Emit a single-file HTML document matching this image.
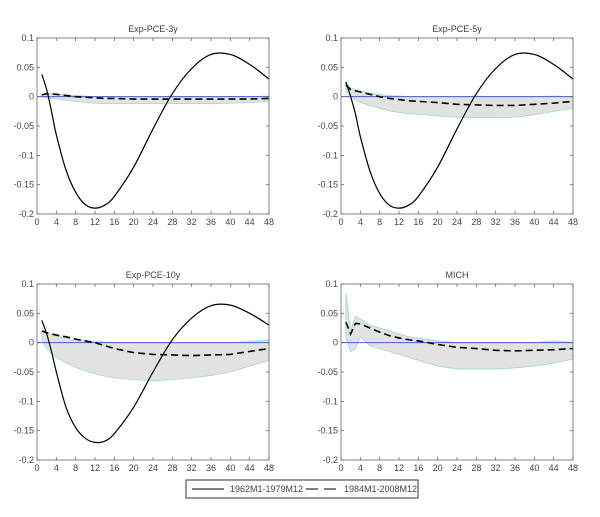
<!DOCTYPE html>
<html><head><meta charset="utf-8"><style>
body{margin:0;background:#fff;}
svg{display:block;font-family:"Liberation Sans",sans-serif;}
</style></head><body>
<svg id="c" width="600" height="517"></svg>
<script>
const horizons=[1,2,3,4,6,8,10,12,14,16,20,24,28,32,36,40,44,48];
const xTicks=[0,4,8,12,16,20,24,28,32,36,40,44,48];
const yTicks=[0.1,0.05,0,-0.05,-0.1,-0.15,-0.2];
const yTickLabels=["0.1","0.05","0","-0.05","-0.1","-0.15","-0.2"];
const titles=["Exp-PCE-3y","Exp-PCE-5y","Exp-PCE-10y","MICH"];
const solid3y=[0.038,0.012,-0.025,-0.065,-0.125,-0.163,-0.184,-0.19,-0.185,-0.17,-0.12,-0.055,0.005,0.048,0.072,0.072,0.055,0.03];
const dashed3y=[0.003,0.005,0.005,0.004,0.002,0.0,-0.001,-0.002,-0.003,-0.003,-0.004,-0.004,-0.004,-0.004,-0.004,-0.004,-0.004,-0.003];
const upper3y=[0.004,0.005,0.005,0.004,0.003,0.002,0.001,0.0,0.0,0.0,0.0,0.0,0.0,0.0,0.0,0.0,0.0,0.001];
const lower3y=[0.0,-0.002,-0.003,-0.004,-0.006,-0.008,-0.01,-0.011,-0.012,-0.012,-0.012,-0.012,-0.012,-0.012,-0.012,-0.011,-0.01,-0.008];
const solid5y=[0.025,0.0,-0.03,-0.068,-0.127,-0.165,-0.185,-0.19,-0.185,-0.17,-0.12,-0.055,0.005,0.048,0.072,0.072,0.055,0.03];
const dashed5y=[0.02,0.012,0.01,0.008,0.004,0.0,-0.003,-0.005,-0.007,-0.008,-0.01,-0.013,-0.014,-0.015,-0.015,-0.013,-0.011,-0.008];
const upper5y=[0.025,0.015,0.012,0.01,0.006,0.004,0.002,0.001,0.0,0.0,0.0,0.0,0.0,0.0,0.0,0.0,0.001,0.0];
const lower5y=[0.01,0.0,-0.005,-0.01,-0.015,-0.02,-0.024,-0.027,-0.029,-0.03,-0.033,-0.035,-0.036,-0.036,-0.035,-0.031,-0.025,-0.02];
const solid10y=[0.038,0.015,-0.015,-0.05,-0.11,-0.145,-0.163,-0.17,-0.168,-0.155,-0.11,-0.05,0.005,0.042,0.063,0.064,0.05,0.03];
const dashed10y=[0.02,0.017,0.015,0.013,0.01,0.006,0.003,0.0,-0.005,-0.01,-0.017,-0.02,-0.021,-0.022,-0.021,-0.02,-0.015,-0.01];
const upper10y=[0.018,0.015,0.013,0.011,0.008,0.005,0.003,0.002,0.001,0.0,0.0,0.0,0.0,0.0,0.0,0.0,0.002,0.005];
const lower10y=[0.005,-0.01,-0.018,-0.025,-0.035,-0.042,-0.048,-0.053,-0.057,-0.06,-0.063,-0.065,-0.063,-0.06,-0.056,-0.05,-0.04,-0.03];
const dashedMich=[0.035,0.015,0.033,0.032,0.025,0.018,0.012,0.008,0.005,0.003,-0.003,-0.008,-0.01,-0.013,-0.014,-0.013,-0.012,-0.01];
const upperMich=[0.085,0.02,0.045,0.04,0.03,0.025,0.02,0.015,0.01,0.008,0.003,0.0,0.0,0.0,0.0,0.0,0.003,0.0];
const lowerMich=[0.01,-0.015,-0.01,0.01,-0.005,-0.01,-0.015,-0.02,-0.025,-0.03,-0.04,-0.045,-0.045,-0.045,-0.043,-0.04,-0.035,-0.028];

const panels=[
 {t:0,x0:37,x1:269,y0:38,y1:214,solid:solid3y,dashed:dashed3y,up:upper3y,lo:lower3y},
 {t:1,x0:341,x1:573,y0:38,y1:214,solid:solid5y,dashed:dashed5y,up:upper5y,lo:lower5y},
 {t:2,x0:37,x1:269,y0:284,y1:460,solid:solid10y,dashed:dashed10y,up:upper10y,lo:lower10y},
 {t:3,x0:341,x1:573,y0:284,y1:460,solid:null,dashed:dashedMich,up:upperMich,lo:lowerMich}
];
const svg=document.getElementById('c');
const NS='http://www.w3.org/2000/svg';
function mk(tag,attrs,parent){const e=document.createElementNS(NS,tag);for(const k in attrs)e.setAttribute(k,attrs[k]);(parent||svg).appendChild(e);return e;}
function smooth(pts){
 let d='M'+pts[0][0]+','+pts[0][1];
 for(let i=0;i<pts.length-1;i++){
  const p0=pts[Math.max(0,i-1)],p1=pts[i],p2=pts[i+1],p3=pts[Math.min(pts.length-1,i+2)];
  const c1x=p1[0]+(p2[0]-p0[0])/6,c1y=p1[1]+(p2[1]-p0[1])/6;
  const c2x=p2[0]-(p3[0]-p1[0])/6,c2y=p2[1]-(p3[1]-p1[1])/6;
  d+='C'+c1x+','+c1y+' '+c2x+','+c2y+' '+p2[0]+','+p2[1];
 }
 return d;
}
panels.forEach(p=>{
 const g=mk('g',{});
 
 
 const sx=v=>p.x0+(v-0)/48*(p.x1-p.x0);
 const sy=v=>p.y0+(0.1-v)/0.3*(p.y1-p.y0);
 let d='M'+horizons.map((h,i)=>sx(h)+','+sy(p.up[i])).join('L');
 for(let i=horizons.length-1;i>=0;i--)d+='L'+sx(horizons[i])+','+sy(p.lo[i]);
 const band=mk('path',{d:d+'Z',fill:'#e2e2e2',stroke:'#9fd8d0','stroke-width':0.8},g);
 
 
 const zl=mk('line',{x1:sx(0),x2:sx(48),y1:sy(0),y2:sy(0),stroke:'#4a5fc8','stroke-width':1},g);
 
 
 if(p.solid){
  const s=mk('path',{d:smooth(horizons.map((h,i)=>[sx(h),sy(p.solid[i])])),fill:'none',stroke:'#000','stroke-width':1.2},g);
  
  
 }
 const ds=mk('polyline',{points:horizons.map((h,i)=>sx(h)+','+sy(p.dashed[i])).join(' '),fill:'none',stroke:'#000','stroke-width':1.6,'stroke-dasharray':'7,4'},g);
 
 
 const fr=mk('rect',{x:p.x0,y:p.y0,width:p.x1-p.x0,height:p.y1-p.y0,fill:'none',stroke:'#666','stroke-width':0.8},g);
 
 
 xTicks.forEach(v=>{
  mk('line',{x1:sx(v),x2:sx(v),y1:p.y1,y2:p.y1-3,stroke:'#666','stroke-width':0.8},g);
  mk('line',{x1:sx(v),x2:sx(v),y1:p.y0,y2:p.y0+3,stroke:'#666','stroke-width':0.8},g);
  const t=mk('text',{x:sx(v),y:p.y1+11,'font-size':9,fill:'#444','text-anchor':'middle'},g);
  t.textContent=v;
  
  
 });
 yTicks.forEach((v,i)=>{
  mk('line',{x1:p.x0,x2:p.x0+3,y1:sy(v),y2:sy(v),stroke:'#666','stroke-width':0.8},g);
  mk('line',{x1:p.x1,x2:p.x1-3,y1:sy(v),y2:sy(v),stroke:'#666','stroke-width':0.8},g);
  const t=mk('text',{x:p.x0-3,y:sy(v)+3,'font-size':9,fill:'#444','text-anchor':'end'},g);
  t.textContent=yTickLabels[i];
  
  
 });
 const tt=mk('text',{x:(p.x0+p.x1)/2,y:p.y0-6,'font-size':9,fill:'#444','text-anchor':'middle'},g);
 tt.textContent=titles[p.t];
 
 
});
const lg=mk('g',{});


mk('rect',{x:186,y:480,width:232,height:18,fill:'#fff',stroke:'#333','stroke-width':1},lg);
mk('line',{x1:192,x2:224,y1:489,y2:489,stroke:'#000','stroke-width':1},lg);
const l1=mk('text',{x:230,y:492,'font-size':9,fill:'#444'},lg);
l1.textContent='1962M1-1979M12';


mk('line',{x1:306,x2:338,y1:489,y2:489,stroke:'#000','stroke-width':1,'stroke-dasharray':'12,6'},lg);
const l2=mk('text',{x:344,y:492,'font-size':9,fill:'#444'},lg);
l2.textContent='1984M1-2008M12';


</script>
</body></html>
